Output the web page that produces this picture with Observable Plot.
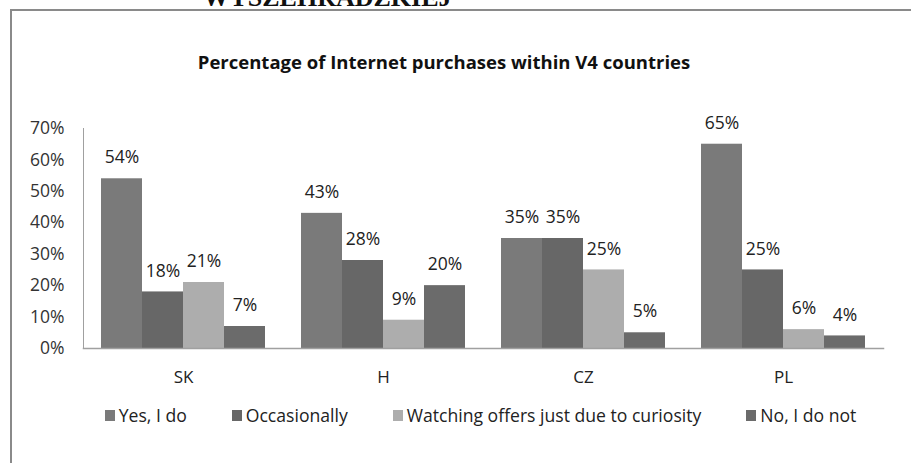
<!DOCTYPE html>
<html>
<head>
<meta charset="utf-8">
<script src="https://cdn.jsdelivr.net/npm/d3@7"></script>
<script src="https://cdn.jsdelivr.net/npm/@observablehq/plot@0.6"></script>
<style>
  html, body { margin: 0; padding: 0; background: #fff; }
  body { width: 911px; height: 463px; overflow: hidden; position: relative; font-family: "Open Sans", sans-serif; }
  #frame { position: absolute; left: 10px; top: 9px; width: 1000px; height: 1000px; border: 2px solid #8a8a8a; box-sizing: border-box; }
  #above { position: absolute; left: 203px; top: -15px; font-family: "Liberation Serif", serif; font-weight: bold; font-size: 26px; line-height: 26px; color: #111; white-space: nowrap; }
  #title { position: absolute; left: 0; width: 888px; top: 50px; text-align: center; font-weight: bold; font-size: 18.5px; line-height: 24px; color: #111; }
  #chart { position: absolute; left: 0; top: 0; }
  #legend { position: absolute; left: 0; width: 911px; top: 403px; display: flex; justify-content: center; padding-left: 50px; box-sizing: border-box; font-size: 17.6px; line-height: 24px; color: #222; }
  .item { display: flex; align-items: center; margin-right: 45px; }
  .item:last-child { margin-right: 0; }
  .sw { width: 10px; height: 11px; margin-right: 4px; }
</style>
</head>
<body>
<div id="frame"></div>
<div id="above">WYSZEHRADZKIEJ</div>
<div id="title">Percentage of Internet purchases within V4 countries</div>
<div id="chart"></div>
<div id="legend"></div>
<script>
const countries = ["SK", "H", "CZ", "PL"];
const series = ["Yes, I do", "Occasionally", "Watching offers just due to curiosity", "No, I do not"];
const yesIDo = [54, 43, 35, 65];
const occasionally = [18, 28, 35, 25];
const watching = [21, 9, 25, 6];
const noIDoNot = [7, 20, 5, 4];
const yTicks = [0, 10, 20, 30, 40, 50, 60, 70];
const colors = ["#7a7a7a", "#676767", "#adadad", "#6b6b6b"];

const valuesBySeries = [yesIDo, occasionally, watching, noIDoNot];
const data = [];
countries.forEach((c, i) => {
  series.forEach((s, j) => {
    data.push({country: c, series: s, value: valuesBySeries[j][i]});
  });
});

const chart = Plot.plot({
  width: 911,
  height: 463,
  marginLeft: 82,
  marginRight: 28,
  marginTop: 128,
  marginBottom: 115,
  style: {fontFamily: "Open Sans, sans-serif", fontSize: "17px", background: "transparent", color: "#222"},
  fx: {domain: countries, padding: 0},
  x: {domain: series, paddingInner: 0, paddingOuter: 0.4, axis: null},
  y: {domain: [0, 70]},
  color: {domain: series, range: colors},
  marks: [
    Plot.barY(data, {fx: "country", x: "series", y: "value", fill: "series"}),
    Plot.frame({anchor: "left", facet: "super", stroke: "#a0a0a0", strokeWidth: 1}),
    Plot.frame({anchor: "bottom", facet: "super", stroke: "#a0a0a0", strokeWidth: 1.5}),
    Plot.text(data, {fx: "country", x: "series", y: "value", text: d => d.value + "%", dy: -21, fontSize: 17.5, fill: "#222"}),
    Plot.axisY({ticks: yTicks, tickFormat: d => d + "%", tickSize: 0, tickPadding: 19, fontSize: 17.5, label: null, fill: "#333"}),
    Plot.axisFx({anchor: "bottom", tickSize: 0, tickPadding: 22, fontSize: 17, label: null, fill: "#222"})
  ]
});
document.getElementById("chart").appendChild(chart);

const legend = document.getElementById("legend");
series.forEach((s, j) => {
  const it = document.createElement("div");
  it.className = "item";
  const sw = document.createElement("span");
  sw.className = "sw";
  sw.style.background = colors[j];
  const t = document.createElement("span");
  t.textContent = s;
  it.appendChild(sw);
  it.appendChild(t);
  legend.appendChild(it);
});
</script>
</body>
</html>
